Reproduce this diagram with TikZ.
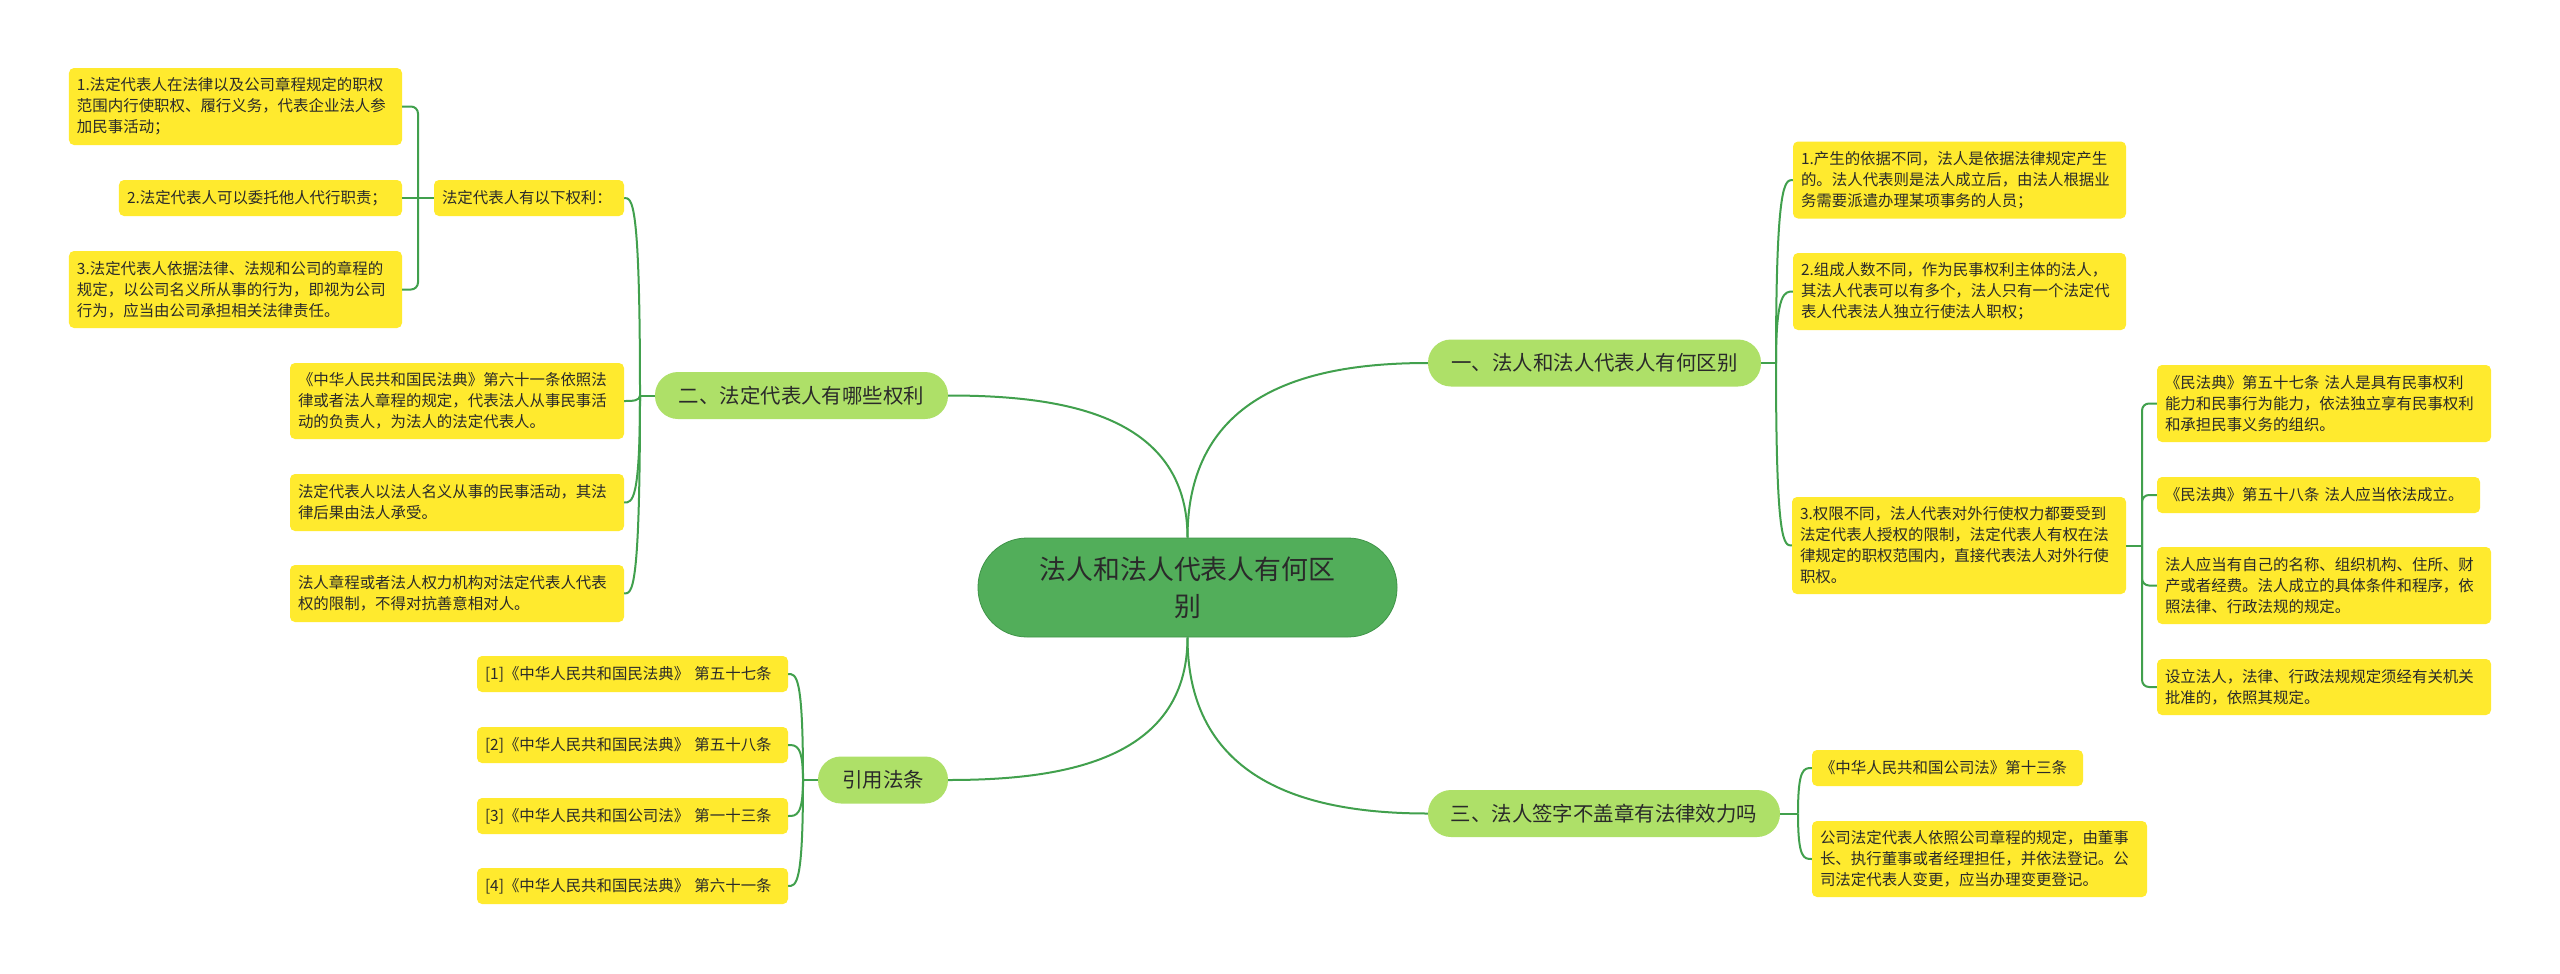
\documentclass[tikz,border=0pt]{standalone}
\usepackage{fontspec}
\setmainfont{Noto Sans CJK SC}
\usepackage{xcolor}
\usepackage{tikz}
\definecolor{leafyellow}{HTML}{FFEA2E}
\definecolor{branchgreen}{HTML}{AEE068}
\definecolor{rootgreen}{HTML}{52AE5A}
\definecolor{rootedge}{HTML}{3F9448}
\definecolor{linkgreen}{HTML}{41A04D}
\definecolor{ink}{HTML}{2A2A2A}

\begin{document}
\begin{tikzpicture}[
  x=1bp, y=-1bp,
  leaf/.style={
    fill=leafyellow,
    rounded corners=5bp,
    align=left,
    text width=317bp,
    minimum height=36bp,
    inner xsep=8bp,
    inner ysep=3bp,
    text=ink,
    font=\fontsize{15.5}{21}\selectfont
  },
  branch/.style={
    fill=branchgreen,
    rounded corners=23bp,
    align=center,
    minimum height=47bp,
    inner xsep=4bp,
    text=ink,
    font=\fontsize{20.5}{26}\selectfont
  },
  rootnode/.style={
    fill=rootgreen,
    draw=rootedge,
    line width=0.8bp,
    rounded corners=49bp,
    align=center,
    minimum width=419bp,
    minimum height=99bp,
    text=ink,
    font=\fontsize{27}{37}\selectfont
  },
  link/.style={draw=linkgreen, line width=2bp},
  bracket/.style={link, rounded corners=7bp}
]
\fill[white] (0,0) rectangle (2560,973);

\node[rootnode] (zhuti) at (1187.5,587.5) {法人和法人代表人有何区\\别};

\node[branch, minimum width=333bp] (qubie) at (1594.5,363) {一、法人和法人代表人有何区别};
\node[branch, minimum width=293bp] (quanli) at (801.5,395.5) {二、法定代表人有哪些权利};
\node[branch, minimum width=352bp] (qianzi) at (1604,813.5) {三、法人签字不盖章有法律效力吗};
\node[branch, minimum width=130bp] (fatiao) at (883,780) {引用法条};

\node[leaf, minimum height=77bp] (yiju) at (1959.5,180) {1.产生的依据不同，法人是依据法律规定产生\\的。法人代表则是法人成立后，由法人根据业\\务需要派遣办理某项事务的人员；};
\node[leaf, minimum height=77bp] (renshu) at (1959.5,291.5) {2.组成人数不同，作为民事权利主体的法人，\\其法人代表可以有多个，法人只有一个法定代\\表人代表法人独立行使法人职权；};
\node[leaf, text width=318bp, minimum height=97bp] (quanxian) at (1959,545.5) {3.权限不同，法人代表对外行使权力都要受到\\法定代表人授权的限制，法定代表人有权在法\\律规定的职权范围内，直接代表法人对外行使\\职权。};

\node[leaf, text width=318bp, minimum height=77bp] (wuqi) at (2324,403.5) {《民法典》第五十七条 法人是具有民事权利\\能力和民事行为能力，依法独立享有民事权利\\和承担民事义务的组织。};
\node[leaf, text width=307bp] (wuba) at (2318.5,495) {《民法典》第五十八条 法人应当依法成立。};
\node[leaf, text width=318bp, minimum height=77bp] (tiaojian) at (2324,585.5) {法人应当有自己的名称、组织机构、住所、财\\产或者经费。法人成立的具体条件和程序，依\\照法律、行政法规的规定。};
\node[leaf, text width=318bp, minimum height=56bp] (pizhun) at (2324,687) {设立法人，法律、行政法规规定须经有关机关\\批准的，依照其规定。};

\node[leaf, text width=255bp] (shisan) at (1947.5,768) {《中华人民共和国公司法》第十三条};
\node[leaf, text width=319bp, minimum height=76bp] (dengji) at (1979.5,859) {公司法定代表人依照公司章程的规定，由董事\\长、执行董事或者经理担任，并依法登记。公\\司法定代表人变更，应当办理变更登记。};

\node[leaf, text width=174bp] (yixia) at (529,198) {法定代表人有以下权利：};
\node[leaf, minimum height=77bp] (quan1) at (235.5,106.5) {1.法定代表人在法律以及公司章程规定的职权\\范围内行使职权、履行义务，代表企业法人参\\加民事活动；};
\node[leaf, text width=267bp] (quan2) at (260.5,198) {2.法定代表人可以委托他人代行职责；};
\node[leaf, minimum height=77bp] (quan3) at (235.5,289.5) {3.法定代表人依据法律、法规和公司的章程的\\规定，以公司名义所从事的行为，即视为公司\\行为，应当由公司承担相关法律责任。};

\node[leaf, text width=318bp, minimum height=76bp] (liuyi) at (457,401) {《中华人民共和国民法典》第六十一条依照法\\律或者法人章程的规定，代表法人从事民事活\\动的负责人，为法人的法定代表人。};
\node[leaf, text width=318bp, minimum height=57bp] (houguo) at (457,502.5) {法定代表人以法人名义从事的民事活动，其法\\律后果由法人承受。};
\node[leaf, text width=318bp, minimum height=57bp] (xianzhi) at (457,593.5) {法人章程或者法人权力机构对法定代表人代表\\权的限制，不得对抗善意相对人。};

\node[leaf, text width=295bp] (ref1) at (632.5,674) {[1]《中华人民共和国民法典》 第五十七条};
\node[leaf, text width=295bp] (ref2) at (632.5,745) {[2]《中华人民共和国民法典》 第五十八条};
\node[leaf, text width=295bp] (ref3) at (632.5,816) {[3]《中华人民共和国公司法》 第一十三条};
\node[leaf, text width=295bp] (ref4) at (632.5,886) {[4]《中华人民共和国民法典》 第六十一条};

\draw[link] (zhuti.north) .. controls +(0,-150) and +(-110,0) .. (qubie.west);
\draw[link] (zhuti.north) .. controls +(0,-125) and +(110,0) .. (quanli.east);
\draw[link] (zhuti.south) .. controls +(0,150) and +(-110,0) .. (qianzi.west);
\draw[link] (zhuti.south) .. controls +(0,125) and +(110,0) .. (fatiao.east);

\coordinate (j1) at (1776,363);
\draw[link] (qubie.east) -- (j1);
\draw[link] (j1) .. controls (j1 |- yiju.west) and +(-8,0) .. (yiju.west);
\draw[link] (j1) .. controls (j1 |- renshu.west) and +(-8,0) .. (renshu.west);
\draw[link] (j1) .. controls (j1 |- quanxian.west) and +(-8,0) .. (quanxian.west);

\coordinate (k1) at (2142,545.5);
\draw[link] (quanxian.east) -- (k1);
\draw[bracket] (k1) |- (wuqi.west);
\draw[bracket] (k1) |- (wuba.west);
\draw[bracket] (k1) |- (tiaojian.west);
\draw[bracket] (k1) |- (pizhun.west);

\coordinate (j3) at (1798,813.5);
\draw[link] (qianzi.east) -- (j3);
\draw[link] (j3) .. controls (j3 |- shisan.west) and +(-8,0) .. (shisan.west);
\draw[link] (j3) .. controls (j3 |- dengji.west) and +(-8,0) .. (dengji.west);

\coordinate (j2) at (640,395.5);
\draw[link] (quanli.west) -- (j2);
\draw[link] (j2) .. controls (j2 |- yixia.east) and +(8,0) .. (yixia.east);
\draw[link] (j2) .. controls (j2 |- liuyi.east) and +(8,0) .. (liuyi.east);
\draw[link] (j2) .. controls (j2 |- houguo.east) and +(8,0) .. (houguo.east);
\draw[link] (j2) .. controls (j2 |- xianzhi.east) and +(8,0) .. (xianzhi.east);

\coordinate (k2) at (418,198);
\draw[link] (yixia.west) -- (k2);
\draw[bracket] (k2) |- (quan1.east);
\draw[link] (k2) -- (quan2.east);
\draw[bracket] (k2) |- (quan3.east);

\coordinate (j4) at (803,780);
\draw[link] (fatiao.west) -- (j4);
\draw[link] (j4) .. controls (j4 |- ref1.east) and +(8,0) .. (ref1.east);
\draw[link] (j4) .. controls (j4 |- ref2.east) and +(8,0) .. (ref2.east);
\draw[link] (j4) .. controls (j4 |- ref3.east) and +(8,0) .. (ref3.east);
\draw[link] (j4) .. controls (j4 |- ref4.east) and +(8,0) .. (ref4.east);
\end{tikzpicture}
\end{document}
